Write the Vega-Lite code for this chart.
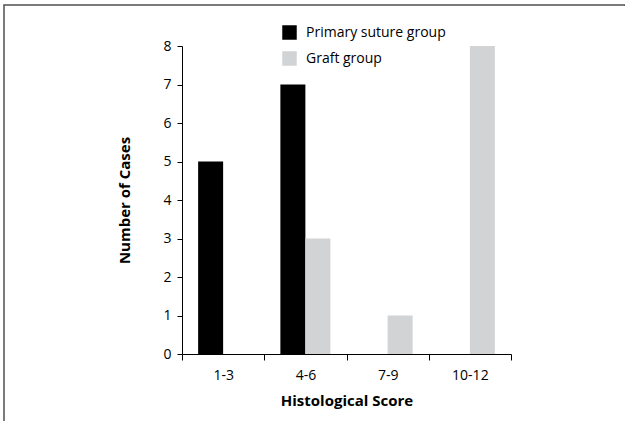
{
  "$schema": "https://vega.github.io/schema/vega-lite/v6.json",
  "autosize": {"type": "none"},
  "padding": {"left": 4, "top": 5, "right": 0, "bottom": 0},
  "width": 621,
  "height": 416,
  "background": "white",
  "data": {
    "values": [
      {"score": "1-3", "group": "Primary suture group", "cases": 5},
      {"score": "4-6", "group": "Primary suture group", "cases": 7},
      {"score": "4-6", "group": "Graft group", "cases": 3},
      {"score": "7-9", "group": "Graft group", "cases": 1},
      {"score": "10-12", "group": "Graft group", "cases": 8}
    ]
  },
  "mark": {"type": "bar"},
  "encoding": {
    "x": {
      "field": "score",
      "type": "nominal",
      "sort": ["1-3", "4-6", "7-9", "10-12"],
      "scale": {"domain": ["1-3", "4-6", "7-9", "10-12"], "range": [178, 507], "paddingInner": 0, "paddingOuter": 0},
      "axis": {
        "title": "Histological Score",
        "offset": -67,
        "labelAngle": 0,
        "tickBand": "extent",
        "tickSize": 6,
        "labelPadding": 8,
        "titlePadding": 11
      }
    },
    "xOffset": {
      "field": "group",
      "type": "nominal",
      "sort": ["Primary suture group", "Graft group"],
      "scale": {"domain": ["Primary suture group", "Graft group"], "paddingInner": 0, "paddingOuter": 0.645}
    },
    "y": {
      "field": "cases",
      "type": "quantitative",
      "scale": {"domain": [0, 8], "range": [349, 41], "nice": false, "zero": true},
      "axis": {
        "title": "Number of Cases",
        "offset": -178,
        "values": [0, 1, 2, 3, 4, 5, 6, 7, 8],
        "grid": false,
        "tickSize": 5,
        "labelPadding": 6,
        "titlePadding": 30
      }
    },
    "color": {
      "field": "group",
      "type": "nominal",
      "sort": ["Primary suture group", "Graft group"],
      "scale": {"domain": ["Primary suture group", "Graft group"], "range": ["#000000", "#d1d3d4"]},
      "legend": {
        "title": null,
        "orient": "none",
        "legendX": 278,
        "legendY": 20,
        "symbolType": "square",
        "symbolSize": 210,
        "symbolStrokeWidth": 0,
        "symbolOpacity": 1,
        "labelFontSize": 14,
        "labelFont": "Open Sans",
        "labelColor": "#000000",
        "labelOffset": 9,
        "rowPadding": 11
      }
    }
  },
  "config": {
    "view": {"stroke": "#505050", "strokeWidth": 1.5, "strokeDash": [622, 1036, 416]},
    "font": "Open Sans",
    "axis": {
      "domainColor": "#000000",
      "domainWidth": 1,
      "tickColor": "#000000",
      "tickWidth": 1,
      "labelFont": "Open Sans",
      "labelFontSize": 14,
      "labelColor": "#000000",
      "titleFont": "Open Sans",
      "titleFontSize": 15,
      "titleFontWeight": "bold",
      "titleColor": "#000000"
    }
  }
}
